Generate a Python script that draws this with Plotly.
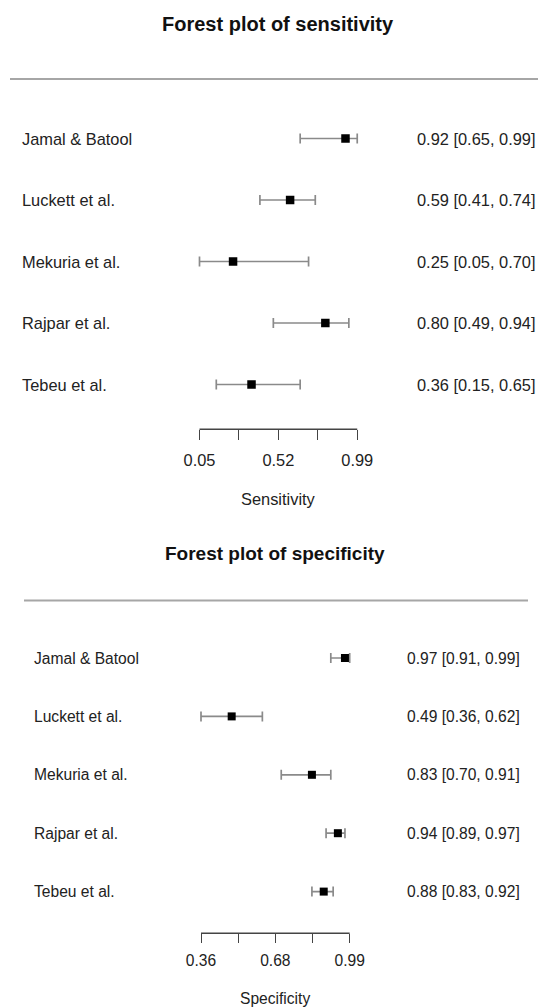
import plotly.graph_objects as go

# ---------------- data ----------------
studies = ["Jamal & Batool", "Luckett et al.", "Mekuria et al.", "Rajpar et al.", "Tebeu et al."]

sens_est = [0.92, 0.59, 0.25, 0.80, 0.36]
sens_lo = [0.65, 0.41, 0.05, 0.49, 0.15]
sens_hi = [0.99, 0.74, 0.70, 0.94, 0.65]

spec_est = [0.97, 0.49, 0.83, 0.94, 0.88]
spec_lo = [0.91, 0.36, 0.70, 0.89, 0.83]
spec_hi = [0.99, 0.62, 0.91, 0.97, 0.92]

sens_ticks = [0.05, 0.285, 0.52, 0.755, 0.99]
sens_ticklabels = ["0.05", "", "0.52", "", "0.99"]
spec_ticks = [0.36, 0.5175, 0.675, 0.8325, 0.99]
spec_ticklabels = ["0.36", "", "0.68", "", "0.99"]

# ---------------- layout geometry ----------------
W, H = 538, 1008
FONT = "Liberation Sans, Arial, sans-serif"


def py(px):  # pixel row -> paper fraction
    return 1 - px / H


def px_x(px):
    return px / W


fig = go.Figure()

panels = [
    dict(est=sens_est, lo=sens_lo, hi=sens_hi, ticks=sens_ticks, ticklabels=sens_ticklabels,
         title="Forest plot of sensitivity", axtitle="Sensitivity",
         x0px=199.5, v0=0.05, slope=167.8, row0=138.5, rowstep=61.5, axis_px=429.3, top_px=50,
         fs=16.4, tfs=20, title_px=24, hline_px=79, hline_x=(10, 538),
         lab_x=21, txt_x=416, standoff=6, ticklen=10, axtitle_px=499, msize=8.5,
         xa="xaxis", ya="yaxis", xr="x", yr="y"),
    dict(est=spec_est, lo=spec_lo, hi=spec_hi, ticks=spec_ticks, ticklabels=spec_ticklabels,
         title="Forest plot of specificity", axtitle="Specificity",
         x0px=201, v0=0.36, slope=236.0, row0=658, rowstep=58.4, axis_px=933.3, top_px=615,
         fs=15.6, tfs=19, title_px=553, hline_px=600.5, hline_x=(24, 528),
         lab_x=33, txt_x=406, standoff=4, ticklen=9, axtitle_px=998, msize=8,
         xa="xaxis2", ya="yaxis2", xr="x2", yr="y2"),
]

for p in panels:
    ks = list(range(len(studies)))
    fig.add_trace(go.Scatter(
        x=p["est"], y=ks, xaxis=p["xr"], yaxis=p["yr"], mode="markers",
        marker=dict(symbol="square", size=p["msize"], color="black", line=dict(width=0)),
        error_x=dict(type="data", symmetric=False,
                     array=[h - e for h, e in zip(p["hi"], p["est"])],
                     arrayminus=[e - l for e, l in zip(p["est"], p["lo"])],
                     color="#8a8a8a", thickness=1.7, width=5),
        hoverinfo="skip", showlegend=False, cliponaxis=False,
    ))

    v_left = p["v0"] + (0 - p["x0px"]) / p["slope"]
    v_right = p["v0"] + (W - p["x0px"]) / p["slope"]
    y_bot = (p["axis_px"] - p["row0"]) / p["rowstep"]
    y_top = (p["top_px"] - p["row0"]) / p["rowstep"]

    fig.layout[p["xa"]] = dict(
        domain=[0, 1], range=[v_left, v_right], anchor=p["yr"],
        showgrid=False, zeroline=False, showline=False,
        tickmode="array", tickvals=p["ticks"], ticktext=p["ticklabels"],
        ticks="outside", ticklen=p["ticklen"], tickwidth=1.4, tickcolor="#444",
        tickfont=dict(family=FONT, size=p["fs"], color="#222"),
        ticklabelstandoff=p["standoff"],
        fixedrange=True,
    )
    fig.layout[p["ya"]] = dict(
        domain=[py(p["axis_px"]), py(p["top_px"])], range=[y_bot, y_top], anchor=p["xr"],
        visible=False, fixedrange=True,
    )

    # axis line spanning the tick range
    fig.add_shape(type="line", xref=p["xr"], yref="paper",
                  x0=p["ticks"][0], x1=p["ticks"][-1], y0=py(p["axis_px"]), y1=py(p["axis_px"]),
                  line=dict(color="#444", width=1.4))
    # separator line under the title
    fig.add_shape(type="line", xref="paper", yref="paper",
                  x0=px_x(p["hline_x"][0]), x1=px_x(p["hline_x"][1]),
                  y0=py(p["hline_px"]), y1=py(p["hline_px"]),
                  line=dict(color="#a6a6a6", width=2))

    # title
    mid = (p["ticks"][0] + p["ticks"][-1]) / 2
    fig.add_annotation(text="<b>" + p["title"] + "</b>", xref=p["xr"], yref="paper",
                       x=mid, y=py(p["title_px"]), xanchor="center", yanchor="middle",
                       showarrow=False, font=dict(family=FONT, size=p["tfs"], color="#111"))
    # axis title
    fig.add_annotation(text=p["axtitle"], xref=p["xr"], yref="paper",
                       x=mid, y=py(p["axtitle_px"]), xanchor="center", yanchor="middle",
                       showarrow=False, borderpad=0, font=dict(family=FONT, size=p["fs"], color="#222"))

    # row labels and estimate text
    for k, name in enumerate(studies):
        fig.add_annotation(text=name, xref="paper", yref=p["yr"], x=px_x(p["lab_x"]), y=k,
                           xanchor="left", yanchor="middle", showarrow=False, borderpad=0,
                           font=dict(family=FONT, size=p["fs"], color="#222"))
        txt = f"{p['est'][k]:.2f} [{p['lo'][k]:.2f}, {p['hi'][k]:.2f}]"
        fig.add_annotation(text=txt, xref="paper", yref=p["yr"], x=px_x(p["txt_x"]), y=k,
                           xanchor="left", yanchor="middle", showarrow=False, borderpad=0,
                           font=dict(family=FONT, size=p["fs"], color="#222"))

fig.update_layout(
    width=W, height=H, autosize=False,
    margin=dict(l=0, r=0, t=0, b=0, pad=0),
    paper_bgcolor="white", plot_bgcolor="white",
    showlegend=False, hovermode=False,
)

fig.write_html("out.html", config={"displayModeBar": False},
               post_script="document.body.style.margin='0';document.body.style.overflow='hidden';")
